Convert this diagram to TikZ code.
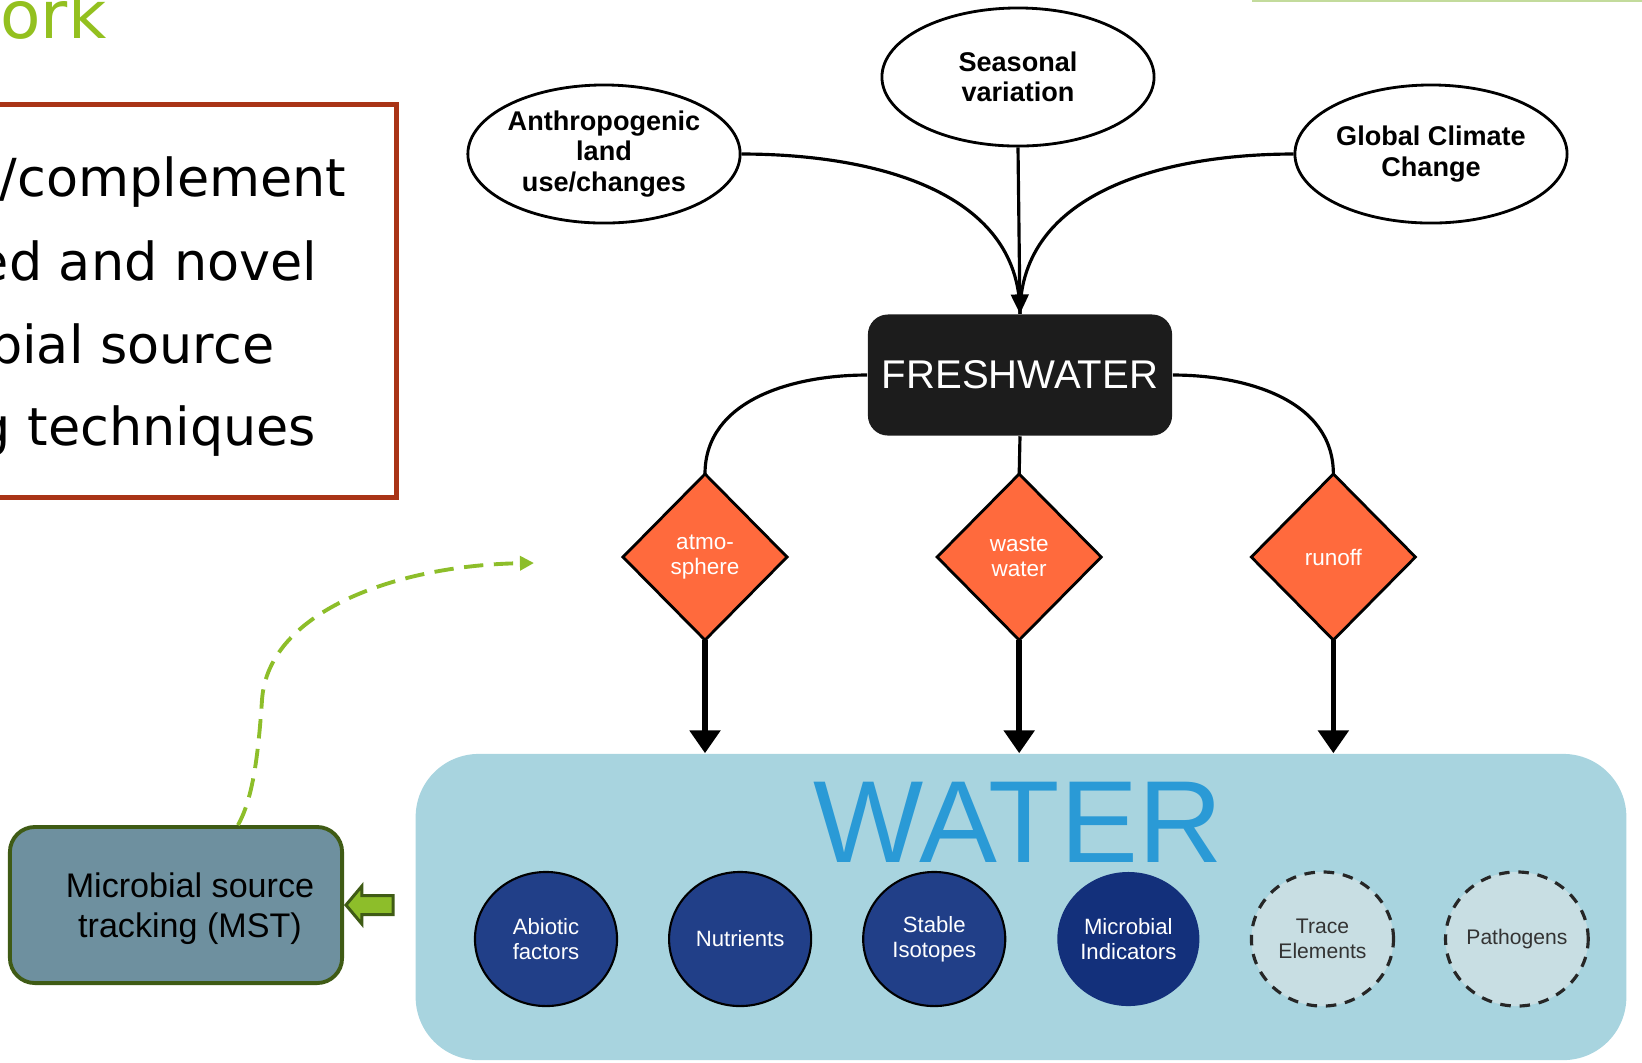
\documentclass[tikz,border=0pt]{standalone}
\usepackage{fontspec}
\setmainfont{Liberation Sans}
\newfontfamily\slidefont{DejaVu Sans}
\usepackage{tikz}
\usetikzlibrary{positioning, arrows.meta, shapes.geometric, shapes.arrows, calc}
\usepackage{xcolor}
\definecolor{Brick}{HTML}{A93416}
\definecolor{Leaf}{HTML}{93C01F}
\definecolor{Sprout}{HTML}{8DBE2A}
\definecolor{Moss}{HTML}{3F5B15}
\definecolor{Slate}{HTML}{6E909F}
\definecolor{Ink}{HTML}{1C1C1C}
\definecolor{Ember}{HTML}{FF6A3D}
\definecolor{Pool}{HTML}{A8D4DF}
\definecolor{WaterBlue}{HTML}{2A9AD6}
\definecolor{Navy}{HTML}{213F88}
\definecolor{NavyDark}{HTML}{13307B}
\definecolor{Mist}{HTML}{C8DEE3}
\definecolor{Rim}{HTML}{C3DB9C}

\begin{document}
\begin{tikzpicture}[x=0.01cm, y=-0.01cm,
    driver/.style={ellipse, draw=black, line width=0.8pt, fill=white, minimum width=2.72cm, minimum height=1.38cm, inner sep=0pt, align=center, font=\fontsize{7.7}{8.6}\selectfont\bfseries},
    hub/.style={rectangle, rounded corners=0.2cm, fill=Ink, text=white, minimum width=3.04cm, minimum height=1.21cm, font=\fontsize{11.4}{13}\selectfont},
    pathway/.style={diamond, draw=black, line width=0.8pt, fill=Ember, text=white, minimum width=1.64cm, minimum height=1.66cm, inner sep=0pt, outer sep=0pt, align=center, font=\fontsize{6.4}{7.1}\selectfont},
    marker/.style={ellipse, draw=black, line width=0.6pt, fill=Navy, text=white, minimum width=1.42cm, minimum height=1.34cm, inner sep=0pt, outer sep=0pt, align=center, font=\fontsize{6.3}{7.1}\selectfont},
    future/.style={marker, draw=black!85, dash pattern=on 3pt off 2.5pt, line width=0.9pt, fill=Mist, text=black!80, font=\fontsize{6}{7.1}\selectfont},
    link/.style={line width=0.9pt},
    feed/.style={-{Triangle[length=6.5pt, width=8.5pt]}, line width=1.6pt},
    blockarr/.style={single arrow, shape border rotate=180, fill=Sprout, draw=Moss, line width=0.85pt, minimum height=0.47cm, inner sep=0.08cm, single arrow head extend=0.095cm, single arrow tip angle=100},
    slideline/.style={anchor=base east, inner sep=0pt, font=\slidefont\fontsize{14.9}{18}\selectfont}
]
\useasboundingbox (0,0) rectangle (1642,1062);
\clip (0,0) rectangle (1642,1062);

% Slide leftovers
\fill[Rim] (1252,0) rectangle (1642,2);
\node[slideline, text=Leaf, font=\slidefont\fontsize{18.8}{22}\selectfont] (title) at (107,38) {ork};
\node[draw=Brick, line width=1.4pt, minimum width=4.17cm, minimum height=3.93cm] (aimbox) at (188,301) {};
\node[slideline] (l1) at (347,196) {/complement};
\node[slideline] (l2) at (318,280) {ed and novel};
\node[slideline] (l3) at (275,363) {bial source};
\node[slideline] (l4) at (317,445) {g techniques};

% Drivers
\node[driver] (season) at (1018,77) {Seasonal\\variation};
\node[driver] (anthro) at (604,154) {Anthropogenic\\land\\use/changes};
\node[driver] (climate) at (1431,154) {Global Climate\\Change};

% Freshwater and pathways
\node[hub] (fresh) at (1020,375) {FRESHWATER};
\node[pathway] (atmo) at (705,557) {atmo-\\sphere};
\node[pathway, right=1.5cm of atmo] (waste) {waste\\water};
\node[pathway, right=1.5cm of waste] (runoff) {runoff};

% Water and its indicators
\node[fill=Pool, rounded corners=0.63cm, minimum width=12.1cm, minimum height=3.06cm] (water) at (1021,907) {};
\node[text=WaterBlue, anchor=base, inner sep=0pt, font=\fontsize{33.2}{36}\selectfont] (watertitle) at (1018,862) {WATER};
\node[marker] (c1) at (546,939) {Abiotic\\factors};
\node[marker, right=0.52cm of c1] (c2) {Nutrients};
\node[marker, right=0.52cm of c2] (c3) {Stable\\Isotopes};
\node[marker, fill=NavyDark, draw=none, right=0.52cm of c3] (c4) {Microbial\\Indicators};
\node[future, right=0.52cm of c4] (c5) {Trace\\Elements};
\node[future, right=0.52cm of c5] (c6) {Pathogens};

% MST
\node[rectangle, rounded corners=0.25cm, fill=Slate, draw=Moss, line width=1.1pt, minimum width=3.32cm, minimum height=1.56cm] (mst) at (176,905) {};
\node[align=center, font=\fontsize{9.7}{11.4}\selectfont] (msttext) at (190,909) {Microbial source\\tracking (MST)};

% Connectors
\draw[link] (anthro.east) to[out=0, in=90] (fresh.north);
\draw[link] (climate.west) to[out=180, in=90] (fresh.north);
\draw[link, -{Triangle[length=5.5pt, width=5pt]}] (season.south) -- (fresh.north);
\draw[link] (fresh.west) to[out=180, in=90] (atmo.north);
\draw[link] (fresh.south) -- (waste.north);
\draw[link] (fresh.east) to[out=0, in=90] (runoff.north);
\draw[feed] (atmo.south) -- (atmo.south |- water.north);
\draw[feed] (waste.south) -- (waste.south |- water.north);
\draw[feed] (runoff.south) -- (runoff.south |- water.north);
\node[blockarr, anchor=tip] (mstarrow) at (mst.east) {};
\coordinate (mstend) at (534,563);
\draw[Sprout, line width=1.1pt, dash pattern=on 5.5pt off 3pt, -{Triangle[length=4pt, width=4pt]}]
    ($(mst.north)+(62,0)$) .. controls (252,800) and (258,760) .. (262,700)
    .. controls (268,610) and (400,565) .. (mstend);

\end{tikzpicture}
\end{document}
